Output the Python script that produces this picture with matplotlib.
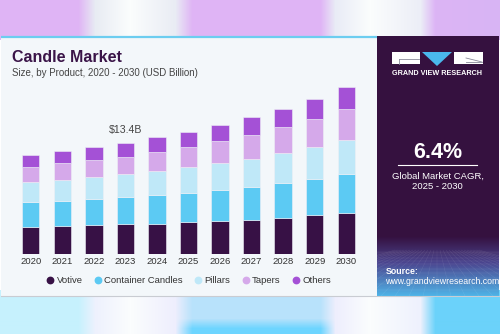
import numpy as np
import matplotlib
matplotlib.use("Agg")
import matplotlib.pyplot as plt
from matplotlib.patches import Rectangle, Polygon
from matplotlib.lines import Line2D

plt.rcParams['font.family'] = ['Liberation Sans', 'DejaVu Sans']

# candle market size by product, USD billion
years = ['2020', '2021', '2022', '2023', '2024', '2025', '2026', '2027', '2028', '2029', '2030']
votive = [3.21, 3.33, 3.46, 3.58, 3.65, 3.82, 3.97, 4.13, 4.37, 4.66, 4.90]
container = [3.01, 3.08, 3.17, 3.25, 3.46, 3.56, 3.73, 3.97, 4.14, 4.41, 4.73]
pillars = [2.48, 2.53, 2.61, 2.81, 2.89, 3.06, 3.21, 3.37, 3.65, 3.78, 4.13]
tapers = [1.81, 1.97, 2.08, 2.08, 2.29, 2.44, 2.65, 2.89, 3.09, 3.41, 3.66]
others = [1.41, 1.44, 1.53, 1.68, 1.77, 1.84, 1.93, 2.09, 2.17, 2.37, 2.65]
segments = ['Votive', 'Container Candles', 'Pillars', 'Tapers', 'Others']
colors = ['#371145', '#5ccaf3', '#bfe8f8', '#d5a9ea', '#a451d6']
cagr = '6.4%'

W, H = 500, 334
fig = plt.figure(figsize=(W / 100, H / 100), dpi=100)

# ---- backdrop (pixel coordinates, y grows downward) ----
bg = fig.add_axes([0, 0, 1, 1])
bg.set_xlim(0, W)
bg.set_ylim(H, 0)
bg.axis('off')


def hexrgb(c):
    c = c.lstrip('#')
    return np.array([int(c[i:i + 2], 16) / 255 for i in (0, 2, 4)])


xs = np.arange(W)
stops = [0, 78, 95, 130, 175, 192, 320, 335, 370, 420, 435, 500]
top_cols = ['#dfb4f5', '#dfb4f5', '#e8ecf3', '#fbfdfd', '#e9ecf4', '#dfb4f5',
            '#dfb4f5', '#e9ecf6', '#fbfdfd', '#eceef7', '#dcb4f5', '#d8b4f4']
bot_cols = ['#c6f1fd', '#c6f1fd', '#eef1fd', '#fbfdfe', '#eeeefd', '#b8e2fb',
            '#b8e2fb', '#eeeefd', '#fbfdfe', '#eef1fd', '#6bd2fa', '#6bd2fa']
bot_low = ['#c6f1fd', '#c6f1fd', '#eef1fd', '#fbfdfe', '#eeeefd', '#6dd5ff',
           '#6dd5ff', '#eeeefd', '#fbfdfe', '#eef1fd', '#6bd2fa', '#6bd2fa']


def profile(cols):
    arr = np.array([hexrgb(c) for c in cols])
    return np.stack([np.interp(xs, stops, arr[:, k]) for k in range(3)], axis=1)


img = np.ones((H, W, 3))
top_p = profile(top_cols)
bot_p = profile(bot_cols)
low_p = profile(bot_low)
img[:40] = top_p
for y in range(290, H):
    t = np.clip((y - 318) / 10, 0, 1)
    img[y] = bot_p * (1 - t) + low_p * t
bg.imshow(img, extent=(0, W, H, 0), aspect='auto', zorder=0)

# card body
bg.add_patch(Rectangle((0.5, 36), 498, 260, facecolor='#f3f7fa', edgecolor='none', zorder=1))
bg.plot([0.5, 498.5], [296, 296], color='#c9ccd2', lw=0.8, zorder=2)
bg.plot([0.5, 377], [37, 37], color='#6ccdf0', lw=1.6, zorder=2, solid_capstyle='butt')

# right panel with gradient foot
bg.add_patch(Rectangle((377, 36), 121.5, 260, facecolor='#35113f', edgecolor='none', zorder=2))
grad = np.zeros((60, 1, 3))
c0, c1, c2 = hexrgb('#35113f'), hexrgb('#4b4690'), hexrgb('#4fb2e6')
for i in range(60):
    t = i / 59
    if t < 0.45:
        grad[i, 0] = c0 * (1 - t / 0.45) + c1 * (t / 0.45)
    else:
        u = (t - 0.45) / 0.55
        grad[i, 0] = c1 * (1 - u) + c2 * u
bg.imshow(grad, extent=(377, 498.5, 296, 236), aspect='auto', zorder=3)
# perspective grid
for k in range(12):
    yy = 252 + 44 * (k / 11) ** 1.6
    bg.plot([377, 498.5], [yy, yy], color='white', lw=0.3, alpha=0.14, zorder=4)
for k in range(-14, 15):
    bg.plot([437 + k * 3, 437 + k * 14], [250, 296], color='white', lw=0.3, alpha=0.12, zorder=4)

# logo
bg.add_patch(Rectangle((392, 52), 28, 12, facecolor='white', edgecolor='none', zorder=5))
bg.plot([399, 419], [59, 59], color='#8a8a9a', lw=0.6, zorder=6)
bg.plot([399, 399], [59, 64], color='#8a8a9a', lw=0.6, zorder=6)
bg.add_patch(Polygon([[422, 52], [452, 52], [437, 66]], closed=True, facecolor='#4ab8ec',
                     edgecolor='none', zorder=5))
bg.add_patch(Rectangle((454, 52), 29, 12, facecolor='white', edgecolor='none', zorder=5))
bg.plot([466, 482], [58, 62], color='#8a8a9a', lw=0.6, zorder=6)
bg.plot([466, 482], [62, 62], color='#8a8a9a', lw=0.6, zorder=6)
bg.text(437.5, 73.5, 'GRAND VIEW RESEARCH', color='white', fontsize=5.2, fontweight='bold',
        ha='center', va='center', zorder=6)

bg.text(437.5, 152, cagr, color='white', fontsize=15.5, fontweight='bold',
        ha='center', va='center', zorder=6)
bg.plot([398, 477], [165, 165], color='white', lw=0.8, zorder=6)
bg.text(437.5, 176, 'Global Market CAGR,', color='white', fontsize=6.8, ha='center', va='center', zorder=6)
bg.text(437.5, 186.5, '2025 - 2030', color='white', fontsize=6.8, ha='center', va='center', zorder=6)
bg.text(385.5, 271.5, 'Source:', color='white', fontsize=6.3, fontweight='bold', ha='left', va='center', zorder=6)
bg.text(385.5, 281, 'www.grandviewresearch.com', color='white', fontsize=6.3, ha='left', va='center', zorder=6)

# titles
bg.text(12.5, 57.5, 'Candle Market', color='#3a1448', fontsize=11.5, fontweight='bold',
        ha='left', va='center', zorder=6)
bg.text(12.5, 73, 'Size, by Product, 2020 - 2030 (USD Billion)', color='#444444', fontsize=7,
        ha='left', va='center', zorder=6)

# ---- stacked bars ----
ax = fig.add_axes([15 / W, (H - 254) / H, 347 / W, 174 / H])
ax.set_facecolor('none')
x = np.arange(len(years))
bottom = np.zeros(len(years))
for name, vals, col in zip(segments, [votive, container, pillars, tapers, others], colors):
    ax.bar(x, vals, width=0.55, bottom=bottom, color=col, edgecolor='#eef0f6', linewidth=0.4, zorder=3)
    bottom += np.array(vals)

ax.annotate(f'${bottom[3]:.1f}B', (x[3], bottom[3]), xytext=(0, 9), textcoords='offset points',
            ha='center', va='center', fontsize=7.6, color='#444444')

ax.set_xlim(-0.5, len(years) - 0.5)
ax.set_ylim(0, 174 / 8.306)
ax.set_xticks(x)
ax.set_xticklabels(years, fontsize=6.8, color='#333333')
ax.tick_params(axis='x', length=0, pad=2)
ax.set_yticks([])
for s in ax.spines.values():
    s.set_visible(False)

handles = [Line2D([], [], marker='o', linestyle='none', markersize=4.6, color=c) for c in colors]
fig.legend(handles, segments, loc='center', bbox_to_anchor=(189 / W, (H - 280.7) / H), ncol=5,
           frameon=False, fontsize=6.8, handlelength=0.7, handletextpad=0.35, columnspacing=1.25,
           labelcolor='#333333')

fig.savefig('out.png', dpi=100)
